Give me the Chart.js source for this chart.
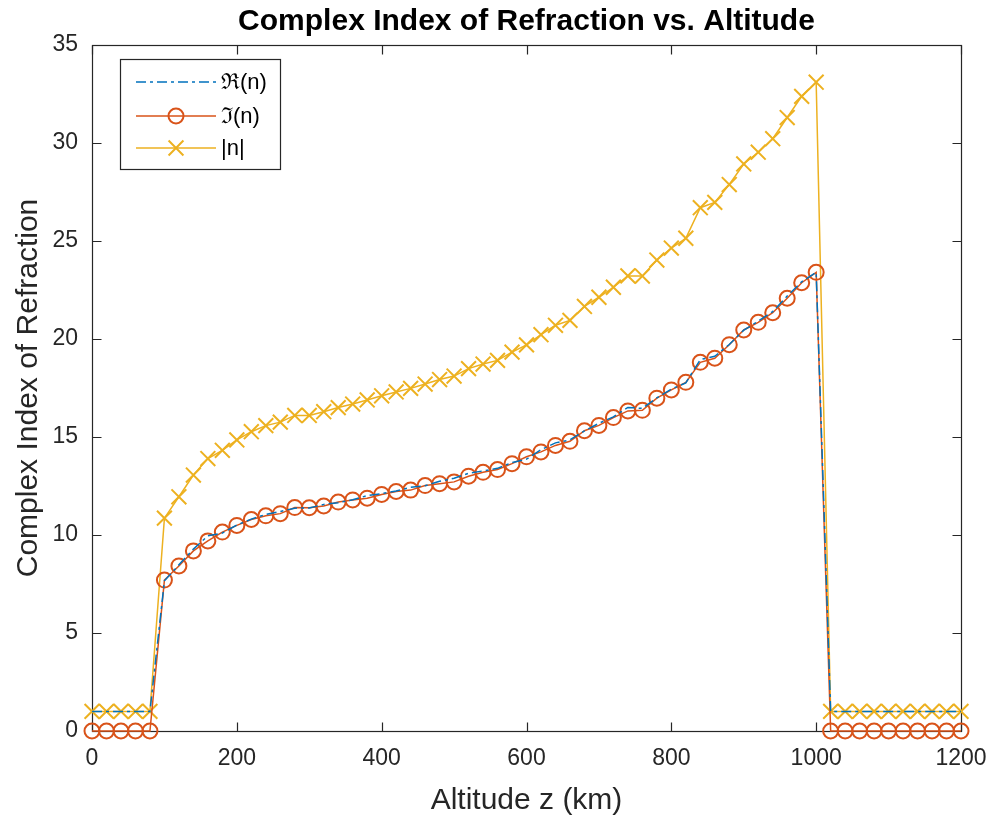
<!DOCTYPE html>
<html><head><meta charset="utf-8">
<script src="https://cdn.jsdelivr.net/npm/chart.js@4/dist/chart.umd.min.js"></script>
<style>html,body{margin:0;padding:0;background:#fff;} canvas{display:block;}</style>
</head><body>
<canvas id="c" width="993" height="820"></canvas>
<script>
const altitudes = [0,20,40,60,80,100,120,140,160,180,200,220,240,260,280,300,320,340,360,380,400,420,440,460,480,500,520,540,560,580,600,620,640,660,680,700,720,740,760,780,800,820,840,860,880,900,920,940,960,980,1000,1020,1040,1060,1080,1100,1120,1140,1160,1180,1200];
const realPart = [1,1,1,1,1,7.66,8.48,9.28,9.96,10.10,10.51,10.81,11.05,11.20,11.37,11.38,11.56,11.65,11.80,12.01,12.11,12.25,12.43,12.51,12.74,12.90,13.15,13.27,13.40,13.70,13.87,14.35,14.70,14.85,15.31,15.70,16.03,16.51,16.46,17.00,17.44,17.76,18.95,19.12,19.72,20.45,20.91,21.40,22.19,22.92,23.41,1,1,1,1,1,1,1,1,1,1];
const imagPart = [0,0,0,0,0,7.70,8.42,9.19,9.70,10.15,10.49,10.79,10.98,11.09,11.40,11.39,11.48,11.68,11.79,11.88,12.07,12.22,12.29,12.52,12.62,12.71,13.00,13.20,13.34,13.64,13.99,14.24,14.57,14.78,15.32,15.59,15.99,16.33,16.36,16.98,17.40,17.79,18.81,19.02,19.71,20.46,20.85,21.34,22.08,22.87,23.40,0,0,0,0,0,0,0,0,0,0];
const magnitude = [1,1,1,1,1,10.86,11.95,13.06,13.90,14.32,14.85,15.27,15.58,15.76,16.10,16.10,16.29,16.50,16.68,16.89,17.10,17.30,17.48,17.70,17.93,18.11,18.49,18.72,18.91,19.33,19.70,20.22,20.70,20.95,21.66,22.13,22.64,23.22,23.21,24.03,24.64,25.14,26.70,26.97,27.88,28.93,29.53,30.22,31.30,32.38,33.10,1,1,1,1,1,1,1,1,1,1];
const xTicks = [0,200,400,600,800,1000,1200];
const yTicks = [0,5,10,15,20,25,30,35];
const seriesLabels = ['\u211C(n)','\u2111(n)','|n|'];
const chartTitle = 'Complex Index of Refraction vs. Altitude';

const FONT = '"Liberation Sans", Arial, Helvetica, sans-serif';
const AX = '#262626';
Chart.defaults.font.family = FONT;

const toPts = arr => altitudes.map((z,i)=>({x:z, y:arr[i]}));

const boxTicks = {
  id:'boxTicks',
  beforeDatasetsDraw(chart){
    const {ctx, chartArea:{left,right,top,bottom}, scales:{x,y}} = chart;
    ctx.save();
    ctx.strokeStyle = AX; ctx.lineWidth = 1.2;
    const L = Math.round(left)+0.5, R = Math.round(right)+0.5, T = Math.round(top)+0.5, B = Math.round(bottom)+0.5;
    ctx.strokeRect(L, T, R-L, B-T);
    ctx.beginPath();
    const tl = 9;
    xTicks.forEach(v=>{
      const px = Math.round(x.getPixelForValue(v))+0.5;
      ctx.moveTo(px,B); ctx.lineTo(px,B-tl);
      ctx.moveTo(px,T); ctx.lineTo(px,T+tl);
    });
    yTicks.forEach(v=>{
      const py = Math.round(y.getPixelForValue(v))+0.5;
      ctx.moveTo(L,py); ctx.lineTo(L+tl,py);
      ctx.moveTo(R,py); ctx.lineTo(R-tl,py);
    });
    ctx.stroke();
    ctx.restore();
  }
};

const centeredTitle = {
  id:'centeredTitle',
  afterDraw(chart){
    const {ctx, chartArea:{left,right}} = chart;
    ctx.save();
    ctx.fillStyle = '#000';
    ctx.font = 'bold 30px ' + FONT;
    ctx.textAlign = 'center';
    ctx.textBaseline = 'middle';
    ctx.fillText(chartTitle, (left+right)/2, 22);
    ctx.restore();
  }
};

const boxLegend = {
  id:'boxLegend',
  afterDatasetsDraw(chart){
    const ctx = chart.ctx;
    const bx = 120.5, by = 59.5, bw = 160, bh = 110;
    ctx.save();
    ctx.fillStyle = '#fff';
    ctx.fillRect(bx,by,bw,bh);
    ctx.strokeStyle = AX; ctx.lineWidth = 1.2;
    ctx.strokeRect(bx,by,bw,bh);
    const rows = [82,116,148];
    chart.data.datasets.forEach((ds,i)=>{
      const yy = rows[i];
      ctx.save();
      ctx.strokeStyle = ds.borderColor; ctx.lineWidth = ds.borderWidth;
      ctx.setLineDash(ds.borderDash || []);
      ctx.beginPath(); ctx.moveTo(136,yy); ctx.lineTo(216,yy); ctx.stroke();
      ctx.restore();
      if (ds.pointRadius > 0){
        ctx.save();
        ctx.strokeStyle = ds.pointBorderColor; ctx.fillStyle = 'rgba(0,0,0,0)';
        ctx.lineWidth = ds.pointBorderWidth;
        Chart.helpers.drawPoint(ctx, {pointStyle: ds.pointStyle, radius: ds.pointRadius, borderWidth: ds.pointBorderWidth, rotation: 0}, 176, yy);
        ctx.restore();
      }
      ctx.fillStyle = '#000';
      ctx.font = '22px ' + FONT;
      ctx.textBaseline = 'middle';
      ctx.textAlign = 'left';
      ctx.fillText(ds.label, 221, yy+1);
    });
    ctx.restore();
  }
};

new Chart(document.getElementById('c'), {
  type:'line',
  data:{
    datasets:[
      {label:seriesLabels[0], data:toPts(realPart), borderColor:'#0072BD', borderWidth:1.5, borderDash:[10,4,3,4], pointRadius:0, fill:false, clip:false, tension:0},
      {label:seriesLabels[1], data:toPts(imagPart), borderColor:'#D95319', borderWidth:1.5, pointStyle:'circle', pointRadius:7.5, pointBorderWidth:2, pointBorderColor:'#D95319', pointBackgroundColor:'rgba(0,0,0,0)', fill:false, clip:false, tension:0},
      {label:seriesLabels[2], data:toPts(magnitude), borderColor:'#EDB120', borderWidth:1.5, pointStyle:'crossRot', pointRadius:10.5, pointBorderWidth:2, pointBorderColor:'#EDB120', pointBackgroundColor:'rgba(0,0,0,0)', fill:false, clip:false, tension:0}
    ]
  },
  options:{
    responsive:false, devicePixelRatio:1, animation:false,
    layout:{padding:{left:0,right:32,top:45,bottom:0}},
    plugins:{
      legend:{display:false}, tooltip:{enabled:false}, title:{display:false}
    },
    scales:{
      x:{type:'linear', min:0, max:1200,
        afterBuildTicks:s=>{s.ticks = xTicks.map(v=>({value:v}));},
        ticks:{color:AX, font:{size:23}, padding:14, maxRotation:0, autoSkip:false, callback:v=>String(v)},
        grid:{display:false, drawTicks:false}, border:{display:false},
        title:{display:true, text:'Altitude z (km)', color:AX, font:{size:30}, padding:{top:0,bottom:1}},
        afterFit:s=>{s.height = 89; s.paddingLeft = 0; s.paddingRight = 0;}
      },
      y:{type:'linear', min:0, max:35,
        afterBuildTicks:s=>{s.ticks = yTicks.map(v=>({value:v}));},
        ticks:{color:AX, font:{size:23}, padding:14, autoSkip:false, callback:v=>String(v)},
        grid:{display:false, drawTicks:false}, border:{display:false},
        title:{display:true, text:'Complex Index of Refraction', color:AX, font:{size:30}, padding:{top:11,bottom:11}},
        afterFit:s=>{s.width = 92; s.paddingTop = 0; s.paddingBottom = 0;}
      }
    }
  },
  plugins:[boxTicks, boxLegend, centeredTitle]
});
</script>
</body></html>
